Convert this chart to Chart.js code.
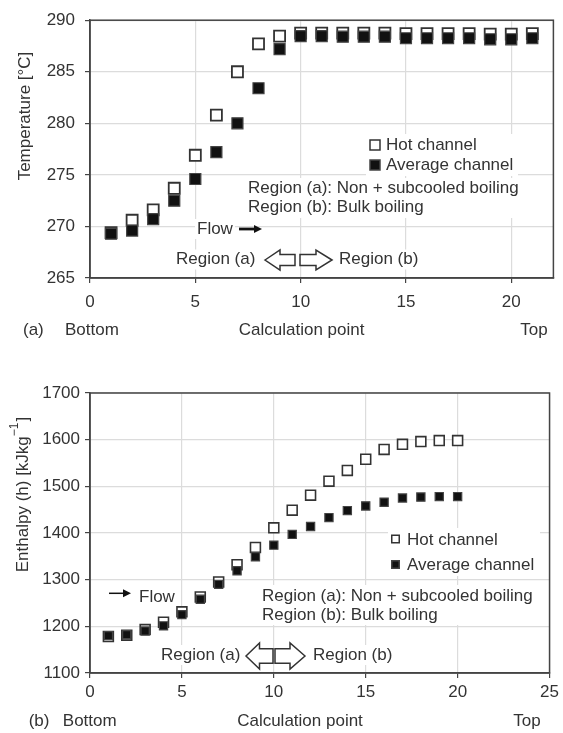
<!DOCTYPE html>
<html>
<head>
<meta charset="utf-8">
<script src="https://cdn.jsdelivr.net/npm/chart.js@4.4.1/dist/chart.umd.min.js"></script>
<style>
body{margin:0;background:#fff;}
#wrapA{position:absolute;left:0;top:0;width:563px;height:340px;}
#wrapB{position:absolute;left:0;top:340px;width:563px;height:393px;}
</style>
</head>
<body>
<div id="wrapA"><canvas id="chartA" width="563" height="340"></canvas></div>
<div id="wrapB"><canvas id="chartB" width="563" height="393"></canvas></div>
<script>
// (a) temperature along the channel
var calcPointsA=[1,2,3,4,5,6,7,8,9,10,11,12,13,14,15,16,17,18,19,20,21];
var hotTempA=[269.4,270.6,271.6,273.7,276.9,280.8,285.0,287.7,288.45,288.75,288.75,288.75,288.75,288.75,288.7,288.7,288.7,288.7,288.65,288.65,288.7];
var avgTempA=[269.3,269.6,270.7,272.5,274.6,277.2,280.0,283.4,287.2,288.45,288.45,288.4,288.4,288.4,288.25,288.25,288.25,288.25,288.15,288.15,288.25];
var xTicksA=[0,5,10,15,20];
var yTicksA=[265,270,275,280,285,290];

// (b) enthalpy along the channel
var calcPointsB=[1,2,3,4,5,6,7,8,9,10,11,12,13,14,15,16,17,18,19,20];
var hotEnthB=[1178,1181,1193,1209,1231,1263,1295,1332,1369,1411,1449,1481,1511,1534,1558,1579,1590,1596,1598,1598];
var avgEnthB=[1180,1182,1190,1201,1225,1258,1290,1319,1349,1374,1397,1414,1433,1448,1458,1466,1475,1477,1478,1478];
var xTicksB=[0,5,10,15,20,25];
var yTicksB=[1100,1200,1300,1400,1500,1600,1700];

var FONT="'Liberation Sans', Arial, Helvetica, sans-serif";
var TXT='#333';
Chart.defaults.font.family=FONT;
Chart.defaults.color=TXT;

function pts(xs,ys){return xs.map(function(x,i){return {x:x,y:ys[i]};});}

function textBox(ctx,str,x,y,align){
  ctx.textAlign=align||'left';
  ctx.textBaseline='middle';
  var w=ctx.measureText(str).width;
  var x0=align==='center'?x-w/2:x;
  ctx.fillStyle='#fff';
  ctx.fillRect(x0-2,y-10,w+4,20);
  ctx.fillStyle=TXT;
  ctx.fillText(str,x,y);
}
function flowArrow(ctx,x0,x1,y,lw,hl,hh){
  ctx.strokeStyle='#111';ctx.fillStyle='#111';ctx.lineWidth=lw;
  ctx.beginPath();ctx.moveTo(x0,y);ctx.lineTo(x1-hl+1,y);ctx.stroke();
  ctx.beginPath();ctx.moveTo(x1,y);ctx.lineTo(x1-hl,y-hh/2);ctx.lineTo(x1-hl,y+hh/2);ctx.closePath();ctx.fill();
}
function blockArrow(ctx,x0,x1,y,h,dir){
  var len=x1-x0,hl=len*0.5,s=h*0.55;
  ctx.beginPath();
  if(dir<0){
    var xb=x0+hl;
    ctx.moveTo(x0,y);ctx.lineTo(xb,y-h/2);ctx.lineTo(xb,y-s/2);ctx.lineTo(x1,y-s/2);
    ctx.lineTo(x1,y+s/2);ctx.lineTo(xb,y+s/2);ctx.lineTo(xb,y+h/2);
  }else{
    var xc=x1-hl;
    ctx.moveTo(x1,y);ctx.lineTo(xc,y-h/2);ctx.lineTo(xc,y-s/2);ctx.lineTo(x0,y-s/2);
    ctx.lineTo(x0,y+s/2);ctx.lineTo(xc,y+s/2);ctx.lineTo(xc,y+h/2);
  }
  ctx.closePath();
  ctx.fillStyle='#fff';ctx.fill();
  ctx.strokeStyle='#333';ctx.lineWidth=1.5;ctx.stroke();
}

function notesPlugin(n){
  return {
    id:'notes',
    beforeDatasetsDraw:function(chart){
      var ctx=chart.ctx,a=chart.chartArea;
      ctx.save();
      ctx.strokeStyle='#444';ctx.lineWidth=1.5;
      ctx.strokeRect(a.left,a.top,a.right-a.left,a.bottom-a.top);
      ctx.font='17px '+FONT;
      // white boxes behind legend and region notes
      ctx.fillStyle='#fff';
      ctx.fillRect(n.legBox[0],n.legBox[1],n.legBox[2],n.legBox[3]);
      ctx.fillRect(n.regBox[0],n.regBox[1],n.regBox[2],n.regBox[3]);
      // legend
      var ds=chart.data.datasets;
      n.legend.forEach(function(l,i){
        var d=ds[i],s=l.size;
        ctx.fillStyle=d.backgroundColor;ctx.strokeStyle=d.borderColor;ctx.lineWidth=1.5;
        ctx.fillRect(l.mx-s/2,l.my-s/2,s,s);ctx.strokeRect(l.mx-s/2,l.my-s/2,s,s);
        ctx.fillStyle=TXT;ctx.textAlign='left';ctx.textBaseline='middle';
        ctx.fillText(d.label,l.tx,l.ty);
      });
      textBox(ctx,'Region (a): Non + subcooled boiling',n.reg[0],n.reg[1]);
      textBox(ctx,'Region (b): Bulk boiling',n.reg[0],n.reg[2]);
      textBox(ctx,'Flow',n.flowText[0],n.flowText[1]);
      flowArrow(ctx,n.flow[0],n.flow[1],n.flow[2],n.flow[3],8,8);
      textBox(ctx,'Region (a)',n.ra[0],n.ra[1]);
      textBox(ctx,'Region (b)',n.rb[0],n.rb[1]);
      blockArrow(ctx,n.arrL[0],n.arrL[1],n.arrY,n.arrH,-1);
      blockArrow(ctx,n.arrR[0],n.arrR[1],n.arrY,n.arrH,1);
      ctx.restore();
    },
    afterDraw:function(chart){
      var ctx=chart.ctx;
      ctx.save();
      ctx.font='17px '+FONT;ctx.fillStyle=TXT;ctx.textBaseline='middle';
      ctx.textAlign='left';
      ctx.fillText(n.tag,n.row[0],n.row[4]);
      ctx.fillText('Bottom',n.row[1],n.row[4]);
      ctx.textAlign='center';
      ctx.fillText('Calculation point',n.row[2],n.row[4]);
      ctx.fillText('Top',n.row[3],n.row[4]);
      // rotated y title
      ctx.translate(n.yTitle[0],n.yTitle[1]);
      ctx.rotate(-Math.PI/2);
      var main=n.yTitle[2],sup=n.yTitle[3]||'',tail=n.yTitle[4]||'';
      ctx.font='17px '+FONT;
      var w1=ctx.measureText(main).width,w3=ctx.measureText(tail).width;
      ctx.font='12px '+FONT;
      var w2=ctx.measureText(sup).width;
      var x=-(w1+w2+w3)/2;
      ctx.textAlign='left';
      ctx.font='17px '+FONT;ctx.fillText(main,x,0);
      ctx.font='12px '+FONT;ctx.fillText(sup,x+w1,-8);
      ctx.font='17px '+FONT;ctx.fillText(tail,x+w1+w2+1,0);
      ctx.restore();
    }
  };
}

function makeScales(xmax,ymin,ymax,xt,yt,xh,yw,xpad,ypad){
  var tickFont={size:17};
  var plain=function(v){return String(v);};
  return {
    x:{type:'linear',min:0,max:xmax,
      afterBuildTicks:function(s){s.ticks=xt.map(function(v){return {value:v};});},
      afterFit:function(s){s.height=xh;},
      grid:{color:'#dcdcdc',lineWidth:1.2,tickLength:5,tickColor:'#444'},
      border:{display:true,color:'#444',width:1.5},
      ticks:{font:tickFont,color:TXT,padding:xpad,maxRotation:0,callback:plain}},
    y:{type:'linear',min:ymin,max:ymax,
      afterBuildTicks:function(s){s.ticks=yt.map(function(v){return {value:v};});},
      afterFit:function(s){s.width=yw;},
      grid:{color:'#dcdcdc',lineWidth:1.2,tickLength:5,tickColor:'#444'},
      border:{display:true,color:'#444',width:1.5},
      ticks:{font:tickFont,color:TXT,padding:ypad,callback:plain}}
  };
}

new Chart(document.getElementById('chartA').getContext('2d'),{
  type:'scatter',
  data:{datasets:[
    {label:'Hot channel',data:pts(calcPointsA,hotTempA),pointStyle:'rect',pointRadius:7.8,
     backgroundColor:'#fff',borderColor:'#333',borderWidth:1.8,order:1},
    {label:'Average channel',data:pts(calcPointsA,avgTempA),pointStyle:'rect',pointRadius:7.8,
     backgroundColor:'#111',borderColor:'#444',borderWidth:1.2,order:0}
  ]},
  options:{
    responsive:false,animation:false,
    layout:{padding:{left:0,right:9,top:15,bottom:0}},
    plugins:{legend:{display:false},tooltip:{enabled:false}},
    scales:makeScales(22,265,290,xTicksA,yTicksA,62,90,9,10)
  },
  plugins:[notesPlugin({
    legBox:[366,134,152,42],regBox:[244,178,278,40],
    legend:[{mx:375,my:145,size:10,tx:386,ty:145},{mx:375,my:165,size:10,tx:386,ty:165}],
    reg:[248,188,207.5],
    flowText:[197,229],flow:[239,262,229,2.8],
    ra:[176,259.5],rb:[339,259.5],
    arrL:[265,295],arrR:[300,332],arrY:260,arrH:20,
    tag:'(a)',row:[23,65,301.6,534,330],
    yTitle:[25,116,'Temperature [°C]']
  })]
});

new Chart(document.getElementById('chartB').getContext('2d'),{
  type:'scatter',
  data:{datasets:[
    {label:'Hot channel',data:pts(calcPointsB,hotEnthB),pointStyle:'rect',pointRadius:7,
     backgroundColor:'#fff',borderColor:'#333',borderWidth:1.6,order:1},
    {label:'Average channel',data:pts(calcPointsB,avgEnthB),pointStyle:'rect',pointRadius:5.8,
     backgroundColor:'#111',borderColor:'#444',borderWidth:1.2,order:0}
  ]},
  options:{
    responsive:false,animation:false,
    layout:{padding:{left:0,right:12,top:53,bottom:0}},
    plugins:{legend:{display:false},tooltip:{enabled:false}},
    scales:makeScales(25,1100,1700,xTicksB,yTicksB,60,90,4,5)
  },
  plugins:[notesPlugin({
    legBox:[388,188,152,48],regBox:[258,245,282,40],
    legend:[{mx:395.5,my:199,size:7.5,tx:407,ty:200},{mx:395.5,my:224.5,size:7.5,tx:407,ty:225.7}],
    reg:[262,256,275],
    flowText:[139,257],flow:[109,131,253.3,1.5],
    ra:[161,315],rb:[313,315],
    arrL:[246,273],arrR:[275,305],arrY:316,arrH:26,
    tag:'(b)',row:[28.7,62.8,300,527,381.7],
    yTitle:[23,155,'Enthalpy (h) [kJkg','\u22121',']']
  })]
});
</script>
</body>
</html>
